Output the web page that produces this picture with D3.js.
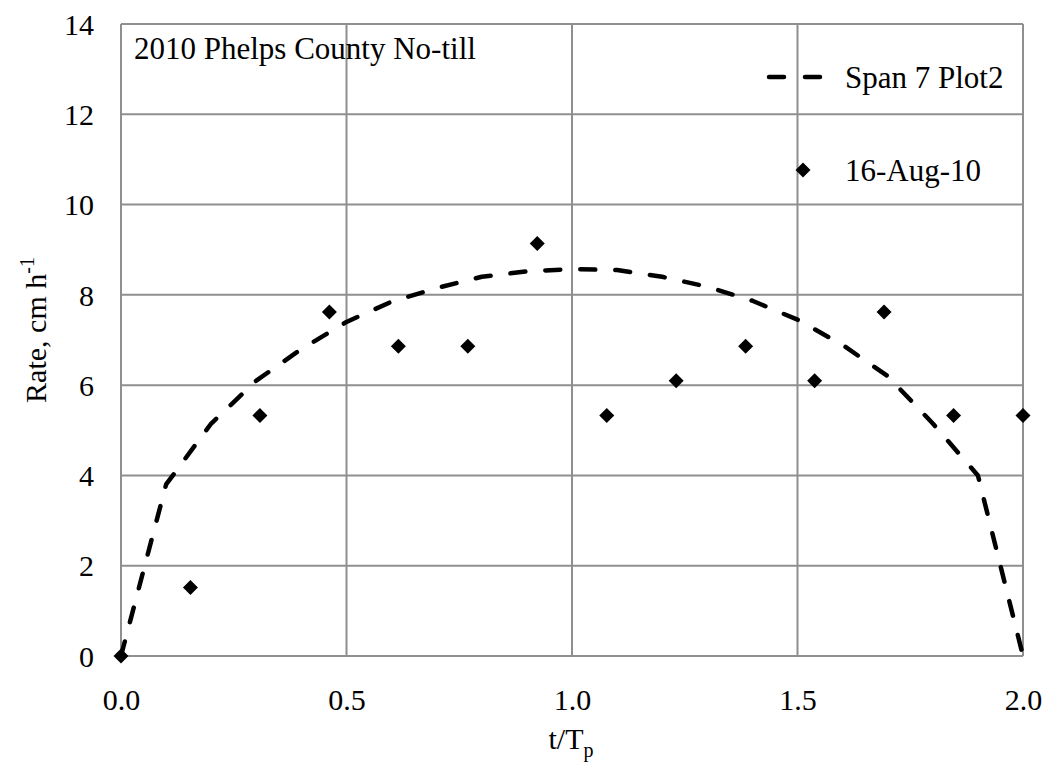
<!DOCTYPE html>
<html>
<head>
<meta charset="utf-8">
<script src="https://cdn.jsdelivr.net/npm/d3@7"></script>
<style>
  html, body { margin: 0; padding: 0; background: #fff; }
  svg { display: block; }
  text { font-family: "Liberation Serif", "Times New Roman", serif; fill: #000; }
</style>
</head>
<body>
<svg id="chart" width="1047" height="769"></svg>
<script>
// Measured infiltration rate points (t/Tp, cm h^-1)
const obsT = [0, 0.154, 0.308, 0.462, 0.615, 0.769, 0.923, 1.077, 1.231, 1.385, 1.538, 1.692, 1.846, 2.0];
const obsRate = [0, 1.52, 5.33, 7.62, 6.86, 6.86, 9.14, 5.33, 6.10, 6.86, 6.10, 7.62, 5.33, 5.33];

// Fitted curve for Span 7 Plot2
const fitT = [0, 0.1, 0.2, 0.3, 0.4, 0.5, 0.6, 0.7, 0.8, 0.9, 1.0, 1.1, 1.2, 1.3, 1.4, 1.5, 1.6, 1.7, 1.8, 1.9, 2.0];
const fitRate = [0, 3.8, 5.15, 6.1, 6.8, 7.4, 7.85, 8.15, 8.4, 8.52, 8.57, 8.55, 8.4, 8.18, 7.87, 7.45, 6.89, 6.2, 5.15, 4.0, 0];

const xTicks = [0, 0.5, 1.0, 1.5, 2.0];
const yTicks = [0, 2, 4, 6, 8, 10, 12, 14];

const seriesNames = ["Span 7 Plot2", "16-Aug-10"];
const annotation = "2010 Phelps County No-till";

const svg = d3.select("#chart");
const plotL = 121, plotR = 1023, plotT = 24, plotB = 656;

const x = d3.scaleLinear().domain([0, 2]).range([plotL, plotR]);
const y = d3.scaleLinear().domain([0, 14]).range([plotB, plotT]);

const gridColor = "#8f8f8f";
const fontSize = 30;
const labelSize = 31;

// gridlines
const grid = svg.append("g");
grid.selectAll("line.v").data(xTicks).join("line")
  .attr("x1", d => x(d)).attr("x2", d => x(d))
  .attr("y1", plotT).attr("y2", plotB)
  .attr("stroke", gridColor).attr("stroke-width", 2);
grid.selectAll("line.h").data(yTicks).join("line")
  .attr("x1", plotL).attr("x2", plotR)
  .attr("y1", d => y(d)).attr("y2", d => y(d))
  .attr("stroke", gridColor).attr("stroke-width", 2);

// axes (labels only, lines drawn by grid)
const xAxis = d3.axisBottom(x).tickValues(xTicks).tickFormat(d3.format(".1f")).tickSize(0).tickPadding(0);
const gx = svg.append("g").attr("transform", `translate(0,${plotB})`).call(xAxis);
gx.select(".domain").remove();
gx.selectAll("text").attr("font-size", fontSize).attr("font-family", "Liberation Serif")
  .attr("y", 54).attr("dy", 0);

const yAxis = d3.axisLeft(y).tickValues(yTicks).tickFormat(d3.format("d")).tickSize(0).tickPadding(0);
const gy = svg.append("g").attr("transform", `translate(${plotL},0)`).call(yAxis);
gy.select(".domain").remove();
gy.selectAll("text").attr("font-size", fontSize).attr("font-family", "Liberation Serif")
  .attr("x", -27).attr("dy", "0.34em");

// fitted curve
const line = d3.line().x((d, i) => x(fitT[i])).y(d => y(d));
svg.append("path")
  .datum(fitRate)
  .attr("d", line)
  .attr("fill", "none")
  .attr("stroke", "#000")
  .attr("stroke-width", 4.5)
  .attr("stroke-linecap", "round")
  .attr("stroke-linejoin", "round")
  .attr("stroke-dasharray", "15,20");

// observed points as diamonds
const r = 7.5;
const diamond = (cx, cy) => `M${cx},${cy - r}L${cx + r},${cy}L${cx},${cy + r}L${cx - r},${cy}Z`;
svg.append("g").selectAll("path").data(obsRate).join("path")
  .attr("d", (d, i) => diamond(x(obsT[i]), y(d)))
  .attr("fill", "#000");

// legend
const lg = svg.append("g");
lg.append("line")
  .attr("x1", 769).attr("x2", 822).attr("y1", 77).attr("y2", 77)
  .attr("stroke", "#000").attr("stroke-width", 4.5)
  .attr("stroke-linecap", "round").attr("stroke-dasharray", "15,21");
lg.append("text").attr("x", 845).attr("y", 77).attr("dy", "0.34em")
  .attr("font-size", labelSize).text(seriesNames[0]);
lg.append("path").attr("d", diamond(803, 170)).attr("fill", "#000");
lg.append("text").attr("x", 845).attr("y", 170).attr("dy", "0.34em")
  .attr("font-size", labelSize).text(seriesNames[1]);

// annotation
svg.append("text").attr("x", 134).attr("y", 48).attr("dy", "0.34em")
  .attr("font-size", labelSize).text(annotation);

// axis titles
const xt = svg.append("text").attr("x", 571).attr("y", 749)
  .attr("text-anchor", "middle").attr("font-size", fontSize);
xt.append("tspan").text("t/T");
xt.append("tspan").attr("font-size", 20).attr("dy", 8).text("p");

const yt = svg.append("text")
  .attr("transform", "translate(46,330) rotate(-90)")
  .attr("text-anchor", "middle").attr("font-size", fontSize);
yt.append("tspan").text("Rate, cm h");
yt.append("tspan").attr("font-size", 20).attr("dy", -12).text("-1");
</script>
</body>
</html>
